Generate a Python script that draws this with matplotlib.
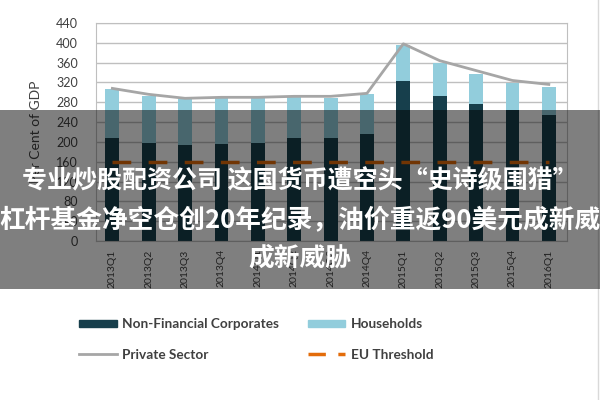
import matplotlib.pyplot as plt
import numpy as np
from matplotlib.lines import Line2D
from matplotlib.patches import Rectangle

plt.rcParams["font.family"] = ["Lato", "DejaVu Sans"]

quarters = ["2013Q1", "2013Q2", "2013Q3", "2013Q4", "2014Q1", "2014Q2", "2014Q3",
            "2014Q4", "2015Q1", "2015Q2", "2015Q3", "2015Q4", "2016Q1"]
non_financial = [208, 198, 194, 196, 198, 208, 208, 216, 322, 292, 276, 264, 254]
households = [98, 94, 92, 92, 90, 82, 80, 80, 74, 68, 62, 54, 56]
private_sector = [308, 296, 288, 290, 290, 292, 292, 298, 398, 364, 344, 324, 316]
eu_threshold = [160] * len(quarters)

title_lines = ["专业炒股配资公司 这国货币遭空头“史诗级围猎”",
               "杠杆基金净空仓创20年纪录，油价重返90美元成新威",
               "成新威胁"]

dark = "#173f4c"
light = "#92cddc"
grey_line = "#a6a6a6"
orange = "#e36c0a"
text_col = "#404040"

fig = plt.figure(figsize=(6, 4), dpi=100)
ax = fig.add_axes([0.16, 0.3975, 0.785, 0.545])

x = np.arange(len(quarters))
ax.bar(x, non_financial, width=0.38, color=dark, zorder=2)
ax.bar(x, households, width=0.38, bottom=non_financial, color=light, zorder=2)
ax.plot(x, private_sector, color=grey_line, lw=2, zorder=3)
ax.plot(x, eu_threshold, color=orange, lw=2.5, dashes=(5.4, 5.0), zorder=3)

ax.set_ylim(0, 440)
ax.set_xlim(-0.45, 12.5)
ax.set_yticks(np.arange(0, 441, 40))
ax.yaxis.grid(True, color="#bfbfbf", lw=1, zorder=0)
ax.set_axisbelow(True)
ax.set_xticks(x)
ax.set_xticklabels(quarters, rotation=90, fontsize=7.5, color=text_col)
ax.tick_params(axis="y", length=0, pad=13, labelsize=9, labelcolor=text_col)
ax.tick_params(axis="x", length=0, pad=6)
ax.set_ylabel("Per Cent of GDP", fontsize=10, color=text_col, labelpad=10)
for s in ax.spines.values():
    s.set_color("#bfbfbf")

handles = [
    Rectangle((0, 0), 1, 1, color=dark),
    Line2D([], [], color=grey_line, lw=2),
    Rectangle((0, 0), 1, 1, color=light),
    Line2D([], [], color=orange, lw=2.5, dashes=(5.0, 3.6)),
]
labels = ["Non-Financial Corporates", "Private Sector", "Households", "EU Threshold"]
fig.legend(handles, labels, ncol=2, loc="upper left", bbox_to_anchor=(0.112, 0.235),
           frameon=False, prop={"weight": "bold", "size": 9.8}, labelcolor=text_col,
           handlelength=2.75, handleheight=0.45, handletextpad=0.4,
           columnspacing=2.1, labelspacing=1.35)

# right edge border of the source image
fig.add_artist(Line2D([0.996, 0.996], [0, 1], color="#d9d9d9", lw=1))

# translucent caption band
fig.add_artist(Rectangle((0, 0.2775), 1, 0.4475, transform=fig.transFigure,
                         facecolor="black", alpha=0.5, zorder=10))
for i, line in enumerate(title_lines):
    fig.text(0.5, 0.548 - i * 0.097, line, ha="center", va="center", color="white",
             fontsize=18.5 if i else 18, fontweight="bold", zorder=11,
             family=["Noto Sans CJK SC", "DejaVu Sans"])

fig.savefig("out.png", dpi=100)
